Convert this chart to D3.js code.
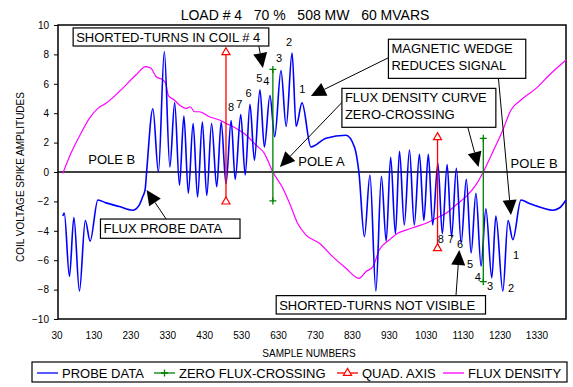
<!DOCTYPE html>
<html>
<head>
<meta charset="utf-8">
<script src="https://cdn.jsdelivr.net/npm/d3@7"></script>
<style>
  body { margin: 0; background: #fff; }
  text { font-family: "Liberation Sans", Arial, sans-serif; fill: #000; }
</style>
</head>
<body>
<div id="chart"></div>
<script>
// probe signal (sample number, amplitude)
var probeX = [47, 51, 65, 77, 92, 108, 121, 142, 164, 200, 236, 254, 263, 270, 274, 291, 306, 322, 337, 350,
  363, 375, 387, 400, 412, 425, 437, 450, 464, 476, 489, 503, 514, 529, 541, 554, 566, 581, 593, 608,
  621, 638, 652, 668, 679, 695, 719, 760, 814, 837, 849, 864, 879, 895, 910, 923, 935, 948, 959, 972,
  986, 999, 1013, 1025, 1037, 1049, 1063, 1075, 1088, 1100, 1113, 1126, 1140, 1153, 1166, 1180, 1193, 1209, 1220, 1239,
  1253, 1266, 1288, 1311, 1347, 1374, 1392, 1410];
var probeY = [-3.0, -2.8, -7.1, -3.1, -8.1, -3.3, -4.7, -1.9, -2.1, -2.35, -2.6, -2.25, -1.7, -1.2, 0, 4.3, 0.0, 8.2, 0.35, 4.7,
  -0.9, 3.8, -1.45, 3.3, -1.7, 3.4, -1.6, 3.3, -1.0, 3.4, -0.8, 3.5, -0.5, 3.9, -0.2, 4.6, 0.8, 5.6, 1.7, 5.2,
  2.4, 6.9, 3.1, 8.1, 3.1, 4.7, 1.7, 2.3, 2.5, 1.7, 0, -4.4, -0.2, -8.1, -0.3, -4.7, 1.0, -4.2, 1.4, -3.6,
  1.5, -3.6, 1.2, -3.3, 1.2, -3.6, 0.6, -4.2, 0.5, -4.4, 0.25, -4.85, -0.5, -5.5, -1.45, -6.4, -2.5, -7.2, -3.0, -8.1,
  -3.3, -4.6, -1.9, -2.15, -2.45, -2.6, -2.45, -1.9];

// flux density curve
var fluxX = [47, 69, 96, 119, 142, 164, 209, 245, 272, 286, 300, 318, 326, 333, 349, 363, 382, 392, 404, 417,
  444, 471, 489, 516, 543, 570, 593, 616, 643, 665, 683, 706, 742, 778, 814, 849, 868, 887, 904, 931,
  954, 977, 1004, 1031, 1058, 1085, 1112, 1139, 1166, 1186, 1212, 1239, 1261, 1288, 1329, 1365, 1410];
var fluxY = [-0.1, 1.27, 2.63, 3.65, 4.33, 4.67, 5.69, 6.6, 7.17, 7.05, 6.48, 6.26, 6.0, 5.2, 4.9, 4.56, 4.33, 4.44, 4.1, 4.1,
  3.76, 3.54, 3.31, 2.97, 2.52, 1.84, 1.27, 0.0, -1.11, -2.36, -3.49, -4.29, -4.85, -5.76, -6.55, -7.23, -6.78, -6.44, -5.31, -4.63,
  -4.17, -3.95, -3.72, -3.49, -3.15, -2.81, -2.24, -1.68, -0.88, 0.0, 1.38, 2.86, 4.22, 4.9, 5.69, 6.6, 7.62];

// zero flux-crossing and quadrature axis markers
var zeroX = [616, 1186];
var zeroTop = [6.98, 2.29];
var zeroBottom = [-1.97, -7.46];
var quadX = [489, 1062];
var quadTop = [8.14, 2.36];
var quadBottom = [-2.02, -5.19];

var xTicks = [30, 130, 230, 330, 430, 530, 630, 730, 830, 930, 1030, 1130, 1230, 1330];
var yTicks = [-10, -8, -6, -4, -2, 0, 2, 4, 6, 8, 10];

// turn numbers next to the peaks
var turnLabels = ["8", "7", "6", "5", "4", "3", "2", "1", "8", "7", "6", "5", "4", "3", "2", "1"];
var turnX = [503, 525, 550, 579, 598, 633, 660, 696, 1071, 1098, 1123, 1150, 1171, 1204, 1261, 1275];
var turnY = [4.4, 4.63, 5.35, 6.37, 6.19, 7.73, 8.86, 5.63, -4.58, -4.54, -4.9, -6.28, -7.16, -7.76, -7.91, -5.65];

var svgWidth = 573, svgHeight = 387;
var margin = { top: 25, right: 7, bottom: 68, left: 58 };
var width = svgWidth - margin.left - margin.right;
var height = svgHeight - margin.top - margin.bottom;

var svg = d3.select("#chart").append("svg")
  .attr("width", svgWidth)
  .attr("height", svgHeight);

var chartGroup = svg.append("g")
  .attr("transform", `translate(${margin.left}, ${margin.top})`);

var xScale = d3.scaleLinear().domain([34, 1410]).range([0, width]);
var yScale = d3.scaleLinear().domain([-10, 10]).range([height, 0]);

// axes
var yAxis = d3.axisLeft(yScale).tickValues(yTicks).tickSize(4).tickPadding(5);
var yg = chartGroup.append("g").call(yAxis);
yg.select(".domain").remove();
yg.selectAll("text").style("font-size", "10px").style("font-family", "Liberation Sans, Arial, sans-serif");
yg.selectAll("line").attr("stroke", "#000");

var xAxis = d3.axisBottom(xScale).tickValues(xTicks).tickFormat(d3.format("d")).tickSize(0).tickPadding(13);
var xg = chartGroup.append("g").attr("transform", `translate(0, ${height})`).call(xAxis);
xg.select(".domain").remove();
xg.selectAll("text").style("font-size", "10px").style("font-family", "Liberation Sans, Arial, sans-serif");

// frame + zero line
chartGroup.append("rect")
  .attr("width", width).attr("height", height)
  .attr("fill", "none").attr("stroke", "#000").attr("stroke-width", 1.5);
chartGroup.append("line")
  .attr("x1", 0).attr("x2", width)
  .attr("y1", yScale(0)).attr("y2", yScale(0))
  .attr("stroke", "#000").attr("stroke-width", 1.5);

// series
var probeData = probeX.map((d, i) => ({ x: d, y: probeY[i] }));
var fluxData = fluxX.map((d, i) => ({ x: d, y: fluxY[i] }));

var line = d3.line()
  .x(d => xScale(d.x))
  .y(d => yScale(d.y))
  .curve(d3.curveMonotoneX);

chartGroup.append("path")
  .datum(fluxData)
  .attr("d", line)
  .attr("fill", "none").attr("stroke", "#ff00ff").attr("stroke-width", 1.2);

chartGroup.append("path")
  .datum(probeData)
  .attr("d", line)
  .attr("fill", "none").attr("stroke", "#0000ff").attr("stroke-width", 1.6);

// quad axis (red, open triangles)
var tri = d3.symbol().type(d3.symbolTriangle).size(28);
quadX.forEach(function(q, i) {
  chartGroup.append("line")
    .attr("x1", xScale(q)).attr("x2", xScale(q))
    .attr("y1", yScale(quadTop[i])).attr("y2", yScale(quadBottom[i]))
    .attr("stroke", "#ff0000").attr("stroke-width", 1.3);
  [quadTop[i], quadBottom[i]].forEach(function(v) {
    chartGroup.append("path").attr("d", tri)
      .attr("transform", `translate(${xScale(q)}, ${yScale(v)})`)
      .attr("fill", "#fff").attr("stroke", "#ff0000").attr("stroke-width", 1.2);
  });
});

// zero flux-crossing (green, plus markers)
zeroX.forEach(function(z, i) {
  chartGroup.append("line")
    .attr("x1", xScale(z)).attr("x2", xScale(z))
    .attr("y1", yScale(zeroTop[i])).attr("y2", yScale(zeroBottom[i]))
    .attr("stroke", "#008000").attr("stroke-width", 1.3);
  [zeroTop[i], zeroBottom[i]].forEach(function(v) {
    chartGroup.append("path")
      .attr("d", "M-3.5,0H3.5M0,-3.5V3.5")
      .attr("transform", `translate(${xScale(z)}, ${yScale(v)})`)
      .attr("stroke", "#008000").attr("stroke-width", 1.3);
  });
});

// turn numbers
chartGroup.selectAll(".turn")
  .data(turnLabels)
  .enter().append("text")
  .attr("class", "turn")
  .attr("x", (d, i) => xScale(turnX[i]))
  .attr("y", (d, i) => yScale(turnY[i]))
  .attr("dy", "0.35em")
  .attr("text-anchor", "middle")
  .style("font-size", "11px")
  .text(d => d);

// pole labels
var poleNames = ["POLE B", "POLE A", "POLE B"];
var poleX = [116, 685, 1260];
var poleY = [0.54, 0.43, 0.3];
chartGroup.selectAll(".pole")
  .data(poleNames)
  .enter().append("text")
  .attr("class", "pole")
  .attr("x", (d, i) => xScale(poleX[i]))
  .attr("y", (d, i) => yScale(poleY[i]))
  .style("font-size", "13px")
  .text(d => d);

// annotation boxes, in chart units
var notes = [
  { lines: ["SHORTED-TURNS IN COIL # 4"], x0: 75, x1: 605, y0: 9.8, y1: 8.57 },
  { lines: ["MAGNETIC WEDGE", "REDUCES SIGNAL"], x0: 929, x1: 1301, y0: 9.03, y1: 6.37 },
  { lines: ["FLUX DENSITY CURVE", "ZERO-CROSSING"], x0: 803, x1: 1220, y0: 5.69, y1: 3.04 },
  { lines: ["FLUX PROBE DATA"], x0: 149, x1: 527, y0: -3.2, y1: -4.51 },
  { lines: ["SHORTED-TURNS NOT VISIBLE"], x0: 625, x1: 1192, y0: -8.41, y1: -9.66 }
];
// arrows: [from x, from y, tip x, tip y]
var arrows = [
  [578, 8.57, 589, 7.07],
  [928, 7.76, 719, 5.17],
  [1227, 6.37, 1261, -2.93],
  [805, 4.78, 635, 0.34],
  [1144, 3.04, 1173, 0.34],
  [327, -3.2, 274, -1.22],
  [1112, -8.41, 1121, -5.31]
];

arrows.forEach(function(a) {
  var x1 = xScale(a[0]), y1 = yScale(a[1]), x2 = xScale(a[2]), y2 = yScale(a[3]);
  var dx = x2 - x1, dy = y2 - y1, len = Math.sqrt(dx * dx + dy * dy);
  var ux = dx / len, uy = dy / len, hl = 15, hw = 7;
  var bx = x2 - ux * hl, by = y2 - uy * hl;
  chartGroup.append("line")
    .attr("x1", x1).attr("y1", y1).attr("x2", bx).attr("y2", by)
    .attr("stroke", "#000").attr("stroke-width", 1);
  chartGroup.append("path")
    .attr("d", `M${x2},${y2}L${bx - uy * hw},${by + ux * hw}L${bx + uy * hw},${by - ux * hw}Z`)
    .attr("fill", "#000");
});

notes.forEach(function(n) {
  var g = chartGroup.append("g");
  g.append("rect")
    .attr("x", xScale(n.x0)).attr("y", yScale(n.y0))
    .attr("width", xScale(n.x1) - xScale(n.x0))
    .attr("height", yScale(n.y1) - yScale(n.y0))
    .attr("fill", "#fff").attr("stroke", "#000").attr("stroke-width", 1.2);
  n.lines.forEach(function(t, i) {
    g.append("text")
      .attr("x", xScale(n.x0) + 3)
      .attr("y", yScale(n.y0) + 14 + i * 17)
      .style("font-size", "13px")
      .text(t);
  });
});

// title + axis titles
svg.append("text")
  .attr("x", 305).attr("y", 20)
  .attr("text-anchor", "middle")
  .style("font-size", "14px")
  .text("LOAD # 4\u00a0\u00a0 70 %\u00a0\u00a0 508 MW\u00a0\u00a0 60 MVARS");

svg.append("text")
  .attr("x", 309).attr("y", 357)
  .attr("text-anchor", "middle")
  .style("font-size", "10px")
  .text("SAMPLE NUMBERS");

svg.append("text")
  .attr("transform", "translate(24, 177) rotate(-90)")
  .attr("text-anchor", "middle")
  .style("font-size", "10px")
  .text("COIL VOLTAGE SPIKE AMPLITUDES");

// legend
var legend = svg.append("g");
legend.append("rect")
  .attr("x", 32).attr("y", 362).attr("width", 535).attr("height", 20)
  .attr("fill", "#fff").attr("stroke", "#000").attr("stroke-width", 1.2);
var legendItems = [
  { name: "PROBE DATA", color: "#0000ff", x: 37, mark: null },
  { name: "ZERO FLUX-CROSSING", color: "#008000", x: 154, mark: "plus" },
  { name: "QUAD. AXIS", color: "#ff0000", x: 337, mark: "tri" },
  { name: "FLUX DENSITY", color: "#ff00ff", x: 443, mark: null }
];
legendItems.forEach(function(it) {
  legend.append("line")
    .attr("x1", it.x).attr("x2", it.x + 21)
    .attr("y1", 373).attr("y2", 373)
    .attr("stroke", it.color).attr("stroke-width", 1.3);
  if (it.mark === "plus") {
    legend.append("path").attr("d", "M-3.5,0H3.5M0,-3.5V3.5")
      .attr("transform", `translate(${it.x + 10.5}, 373)`)
      .attr("stroke", it.color).attr("stroke-width", 1.3);
  } else if (it.mark === "tri") {
    legend.append("path").attr("d", tri)
      .attr("transform", `translate(${it.x + 10.5}, 373)`)
      .attr("fill", "#fff").attr("stroke", it.color).attr("stroke-width", 1.2);
  }
  legend.append("text")
    .attr("x", it.x + 25).attr("y", 378)
    .style("font-size", "13px")
    .text(it.name);
});
</script>
</body>
</html>
